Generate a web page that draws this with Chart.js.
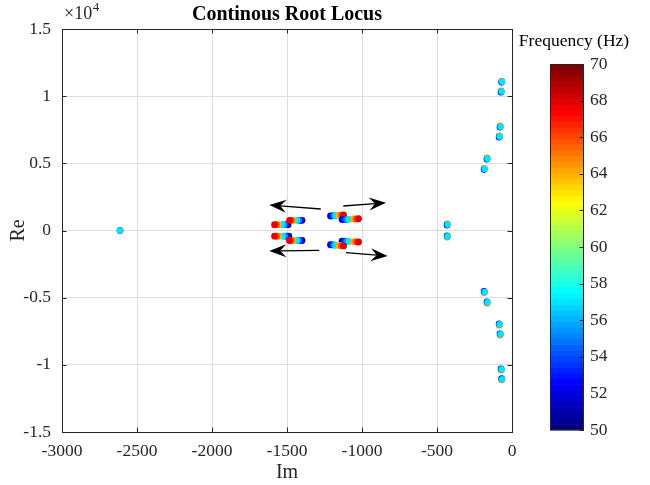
<!DOCTYPE html>
<html><head><meta charset="utf-8">
<script src="https://cdn.jsdelivr.net/npm/chart.js@4.4.1/dist/chart.umd.min.js"></script>
<style>
html,body{margin:0;padding:0;background:#fff;}
#wrap{position:relative;width:650px;height:485px;background:#fff;}
#main{position:absolute;left:0;top:0;}
#cbar{position:absolute;left:512px;top:0;}
</style></head><body>
<div id="wrap"><canvas id="main" width="650" height="485"></canvas><canvas id="cbar" width="138" height="485"></canvas></div>
<script>
const FONT = "'Liberation Serif','Times New Roman',serif";

// ---- axis settings ----
const xTicks = [-3000, -2500, -2000, -1500, -1000, -500, 0];
const yTicks = [-15000, -10000, -5000, 0, 5000, 10000, 15000];
const yScaleExp = 4; // labels shown as x10^4
const cbTicks = [50, 52, 54, 56, 58, 60, 62, 64, 66, 68, 70];

// ---- frequency samples (Hz) of the moving root strands ----
const freqHz = [51, 53, 55, 57, 64, 66, 68];

// strands of roots (Im on x axis, Re on y axis), one value per frequency above
const strandA_im = [-1493, -1505, -1518, -1532, -1556, -1570, -1583];
const strandA_re = [435, 435, 436, 435, 436, 435, 435];
const strandB_im = [-1400, -1411, -1422, -1435, -1457, -1470, -1483];
const strandB_re = [760, 760, 761, 760, 761, 760, 760];
const strandC_im = [-1488, -1501, -1515, -1530, -1555, -1569, -1583];
const strandC_re = [-420, -420, -421, -420, -421, -420, -420];
const strandD_im = [-1400, -1411, -1423, -1436, -1458, -1471, -1484];
const strandD_re = [-745, -745, -746, -745, -746, -745, -745];
const strandE_im = [-1210, -1198, -1186, -1175, -1152, -1137, -1123];
const strandE_re = [1080, 1090, 1100, 1110, 1135, 1150, 1165];
const strandF_im = [-1133, -1118, -1103, -1088, -1055, -1039, -1023];
const strandF_re = [810, 818, 825, 833, 855, 865, 876];
const strandG_im = [-1133, -1118, -1103, -1088, -1055, -1039, -1023];
const strandG_re = [-790, -798, -805, -813, -835, -845, -856];
const strandH_im = [-1210, -1198, -1186, -1175, -1152, -1137, -1123];
const strandH_re = [-1060, -1070, -1080, -1090, -1115, -1130, -1145];

// nearly fixed roots, sampled at three frequencies
const poleFreqHz = [65, 52, 57];
const pole65_im = [-2613, -432, -432, -68, -72, -79, -85, -166, -185, -185, -166, -85, -79, -72, -68];
const pole65_re = [0, 500, -500, 11130, 10400, 7790, 7050, 5410, 4635, -4635, -5410, -7050, -7790, -10400, -11130];
const pole52_im = [-2613, -433, -433, -69, -73, -80, -86, -167, -186, -186, -167, -86, -80, -73, -69];
const pole52_re = [0, 400, -400, 11030, 10300, 7690, 6950, 5310, 4535, -4535, -5310, -6950, -7690, -10300, -11030];
const pole57_im = [-2613, -429, -429, -65, -69, -76, -82, -163, -182, -182, -163, -82, -76, -69, -65];
const pole57_re = [0, 440, -440, 11070, 10340, 7730, 6990, 5350, 4575, -4575, -5350, -6990, -7730, -10340, -11070];

// direction arrows (data coordinates)
const arrowFrom = [[-1275, 1600], [-1125, 1824], [-1285, -1474], [-1107, -1653]];
const arrowTo   = [[-1618, 1898], [-840, 2070], [-1618, -1526], [-829, -1898]];

const cbMin = 50, cbMax = 70;

function jet(t) {
  const c = v => Math.max(0, Math.min(1, v));
  const r = c(1.5 - Math.abs(4 * t - 3));
  const g = c(1.5 - Math.abs(4 * t - 2));
  const b = c(1.5 - Math.abs(4 * t - 1));
  return `rgb(${Math.round(r * 255)},${Math.round(g * 255)},${Math.round(b * 255)})`;
}
const freqColor = f => jet((f - cbMin) / (cbMax - cbMin));
const zip = (a, b) => a.map((v, i) => ({x: v, y: b[i]}));

// listed in painting order (first painted first)
const paintOrder = [];
const poleSets = [[pole65_im, pole65_re], [pole52_im, pole52_re], [pole57_im, pole57_re]];
poleSets.forEach((p, k) => paintOrder.push({
  data: zip(p[0], p[1]),
  pointBackgroundColor: freqColor(poleFreqHz[k]),
  pointBorderWidth: 0, pointRadius: 3.3, pointHoverRadius: 3.3
}));
const strands = [[strandA_im, strandA_re], [strandB_im, strandB_re], [strandC_im, strandC_re], [strandD_im, strandD_re],
                 [strandE_im, strandE_re], [strandF_im, strandF_re], [strandG_im, strandG_re], [strandH_im, strandH_re]];
strands.forEach(s => paintOrder.push({
  data: zip(s[0], s[1]),
  pointBackgroundColor: freqHz.map(freqColor),
  pointBorderWidth: 0, pointRadius: 3.4, pointHoverRadius: 3.4
}));
// Chart.js paints the last dataset first
const datasets = paintOrder.slice().reverse();

const framePlugin = {
  id: 'frame',
  afterDatasetsDraw(chart) {
    const {ctx, chartArea: a, scales: {x, y}} = chart;
    ctx.save();
    ctx.strokeStyle = '#262626'; ctx.lineWidth = 1;
    ctx.strokeRect(a.left + 0.5, a.top + 0.5, a.right - a.left, a.bottom - a.top);
    const tl = 4.5;
    ctx.beginPath();
    xTicks.forEach(v => {
      const px = Math.round(x.getPixelForValue(v)) + 0.5;
      ctx.moveTo(px, a.bottom); ctx.lineTo(px, a.bottom - tl);
      ctx.moveTo(px, a.top); ctx.lineTo(px, a.top + tl);
    });
    yTicks.forEach(v => {
      const py = Math.round(y.getPixelForValue(v)) + 0.5;
      ctx.moveTo(a.left, py); ctx.lineTo(a.left + tl, py);
      ctx.moveTo(a.right, py); ctx.lineTo(a.right - tl, py);
    });
    ctx.stroke();
    ctx.strokeStyle = '#000'; ctx.fillStyle = '#000'; ctx.lineWidth = 1.3;
    for (let i = 0; i < arrowFrom.length; i++) {
      const x0 = x.getPixelForValue(arrowFrom[i][0]), y0 = y.getPixelForValue(arrowFrom[i][1]);
      const x1 = x.getPixelForValue(arrowTo[i][0]), y1 = y.getPixelForValue(arrowTo[i][1]);
      const dx = x1 - x0, dy = y1 - y0, len = Math.hypot(dx, dy);
      const ux = dx / len, uy = dy / len, nx = -uy, ny = ux;
      const L = 17, W = 13, N = 11;
      ctx.beginPath(); ctx.moveTo(x0, y0); ctx.lineTo(x1 - ux * N, y1 - uy * N); ctx.stroke();
      ctx.beginPath(); ctx.moveTo(x1, y1);
      ctx.lineTo(x1 - ux * L + nx * W / 2, y1 - uy * L + ny * W / 2);
      ctx.lineTo(x1 - ux * N, y1 - uy * N);
      ctx.lineTo(x1 - ux * L - nx * W / 2, y1 - uy * L - ny * W / 2);
      ctx.closePath(); ctx.fill();
    }
    ctx.fillStyle = '#262626';
    ctx.textBaseline = 'alphabetic'; ctx.textAlign = 'left';
    ctx.font = `18px ${FONT}`;
    ctx.fillText('\u00d710', a.left + 2, 19);
    const w = ctx.measureText('\u00d710').width;
    ctx.font = `13px ${FONT}`;
    ctx.fillText(String(yScaleExp), a.left + 2 + w + 0.5, 11);
    ctx.restore();
  }
};

new Chart(document.getElementById('main'), {
  type: 'scatter',
  data: {datasets},
  options: {
    responsive: false, animation: false, events: [],
    layout: {padding: {left: 0, right: 138, top: 0, bottom: 0}},
    plugins: {
      legend: {display: false}, tooltip: {enabled: false},
      title: {display: true, text: 'Continous Root Locus', color: '#000', fullSize: false,
        font: {family: FONT, size: 20, weight: 'bold'}, padding: {top: 3, bottom: 2}}
    },
    scales: {
      x: {
        type: 'linear', min: -3000, max: 0,
        afterBuildTicks: s => { s.ticks = xTicks.map(v => ({value: v})); },
        afterFit: s => { s.height = 53; },
        ticks: {color: '#262626', font: {family: FONT, size: 17.5}, padding: 9, maxRotation: 0, autoSkip: false,
          callback: v => String(v)},
        grid: {color: '#dfdfdf', drawTicks: false},
        border: {display: false},
        title: {display: true, text: 'Im', color: '#262626', font: {family: FONT, size: 20}, padding: {top: 0, bottom: 0}}
      },
      y: {
        type: 'linear', min: -15000, max: 15000,
        afterBuildTicks: s => { s.ticks = yTicks.map(v => ({value: v})); },
        afterFit: s => { s.width = 62; },
        ticks: {color: '#262626', font: {family: FONT, size: 17.5}, padding: 11, autoSkip: false,
          callback: v => String(+(v / Math.pow(10, yScaleExp)).toFixed(2))},
        grid: {color: '#dfdfdf', drawTicks: false},
        border: {display: false},
        title: {display: true, text: 'Re', color: '#262626', font: {family: FONT, size: 20}, padding: {top: 7, bottom: 0}}
      }
    }
  },
  plugins: [framePlugin]
});

const cbPlugin = {
  id: 'cbar',
  afterDraw(chart) {
    const {ctx, chartArea: a, scales: {y}} = chart;
    ctx.save();
    const n = 64;
    for (let i = 0; i < n; i++) {
      const v0 = cbMin + (cbMax - cbMin) * i / n, v1 = cbMin + (cbMax - cbMin) * (i + 1) / n;
      const p0 = y.getPixelForValue(v0), p1 = y.getPixelForValue(v1);
      ctx.fillStyle = jet(i / (n - 1));
      ctx.fillRect(a.left, p1, a.right - a.left, p0 - p1 + 0.6);
    }
    ctx.strokeStyle = '#262626'; ctx.lineWidth = 1;
    ctx.strokeRect(a.left + 0.5, a.top + 0.5, a.right - a.left - 1, a.bottom - a.top - 1);
    ctx.beginPath();
    cbTicks.forEach(v => {
      const py = Math.round(y.getPixelForValue(v)) + 0.5;
      ctx.moveTo(a.right, py); ctx.lineTo(a.right - 4.5, py);
    });
    ctx.stroke();
    ctx.restore();
  }
};

new Chart(document.getElementById('cbar'), {
  type: 'scatter',
  data: {datasets: []},
  options: {
    responsive: false, animation: false, events: [],
    layout: {padding: {left: 0, right: 14, top: 0, bottom: 55}},
    plugins: {
      legend: {display: false}, tooltip: {enabled: false},
      title: {display: true, text: 'Frequency (Hz)', color: '#000',
        font: {family: FONT, size: 17.5, weight: 'normal'}, padding: {top: 31, bottom: 12}}
    },
    scales: {
      x: {type: 'linear', display: false, min: 0, max: 1},
      spacer: {type: 'linear', position: 'left', display: true, min: 0, max: 1,
        afterFit: s => { s.width = 38; },
        ticks: {display: false}, grid: {display: false, drawTicks: false}, border: {display: false}},
      y: {
        type: 'linear', position: 'right', min: cbMin, max: cbMax,
        afterBuildTicks: s => { s.ticks = cbTicks.map(v => ({value: v})); },
        afterFit: s => { s.width = 52; },
        ticks: {color: '#262626', font: {family: FONT, size: 17.5}, padding: 6, autoSkip: false},
        grid: {display: false, drawTicks: false},
        border: {display: false}
      }
    }
  },
  plugins: [cbPlugin]
});
</script>
</body></html>
